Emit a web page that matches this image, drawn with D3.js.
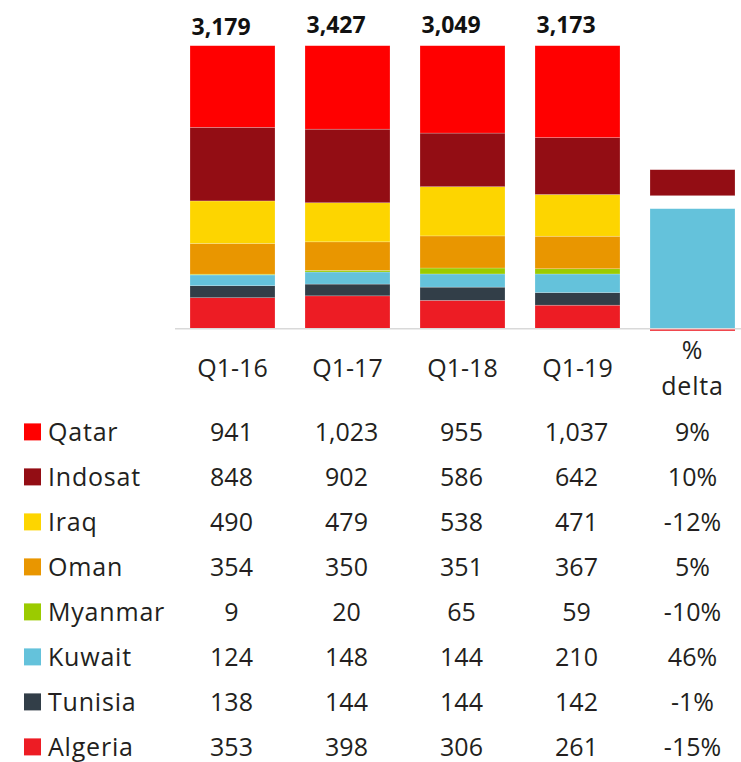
<!DOCTYPE html>
<html>
<head>
<meta charset="utf-8">
<script src="https://cdn.jsdelivr.net/npm/d3@7"></script>
<style>
  html, body { margin: 0; padding: 0; background: #fff; }
  svg { display: block; font-family: "Open Sans", "Noto Sans", sans-serif; }
</style>
</head>
<body>
<svg id="chart" width="741" height="762"></svg>
<script>
// ---------- data ----------
const periods = ["Q1-16", "Q1-17", "Q1-18", "Q1-19"];
const countries = ["Qatar", "Indosat", "Iraq", "Oman", "Myanmar", "Kuwait", "Tunisia", "Algeria"];
const colors = ["#FF0000", "#930D14", "#FDD500", "#E99600", "#9BCB00", "#64C2DB", "#323E48", "#ED1C24"];
const qatar   = [941, 1023, 955, 1037];
const indosat = [848, 902, 586, 642];
const iraq    = [490, 479, 538, 471];
const oman    = [354, 350, 351, 367];
const myanmar = [9, 20, 65, 59];
const kuwait  = [124, 148, 144, 210];
const tunisia = [138, 144, 144, 142];
const algeria = [353, 398, 306, 261];
const totals  = [3179, 3427, 3049, 3173];
const deltaPct = [9, 10, -12, 5, -10, 46, -1, -15];
const deltaColumnLabel = ["%", "delta"];
// segments shown in the "% delta" column, bottom to top
const deltaBarOrder = ["Kuwait", "Oman", "Indosat"];
const deltaHidden = ["Oman"];

const seriesValues = [qatar, indosat, iraq, oman, myanmar, kuwait, tunisia, algeria];

// ---------- layout ----------
const svg = d3.select("#chart");
const textColor = "#231F20";
const baseY = 328.3;
const topY = 45.7;

const columns = [...periods, "delta"];
const x = d3.scaleBand().domain(columns).range([175, 750]).paddingInner(30 / 115).paddingOuter(15 / 115);
const y = d3.scaleLinear().domain([0, 1]).range([baseY, topY]);
const yDelta = d3.scaleLinear().domain([0, 100]).range([baseY, baseY - 260]);
const color = d3.scaleOrdinal().domain(countries).range(colors);

// table rows of records
const rows = periods.map((p, j) => {
  const r = { period: p };
  countries.forEach((c, i) => r[c] = seriesValues[i][j]);
  return r;
});

// stack bottom-to-top: reverse of table order, normalized to 100%
const stackKeys = countries.slice().reverse();
const stack = d3.stack().keys(stackKeys).offset(d3.stackOffsetExpand);
const stacked = stack(rows);

// bars
const g = svg.append("g");
g.selectAll("g.series").data(stacked).join("g")
  .attr("class", "series")
  .attr("fill", d => color(d.key))
  .selectAll("rect").data(d => d).join("rect")
  .attr("x", d => x(d.data.period))
  .attr("width", x.bandwidth())
  .attr("y", d => y(d[1]))
  .attr("height", d => y(d[0]) - y(d[1]))
  .attr("stroke", "rgba(255,255,255,0.35)")
  .attr("stroke-width", 0.6);

// delta column bars
let acc = 0;
const deltaSegs = deltaBarOrder.map(c => {
  const v = deltaPct[countries.indexOf(c)];
  const seg = { key: c, y0: acc, y1: acc + v };
  acc += v;
  return seg;
});
g.selectAll("rect.delta").data(deltaSegs.filter(s => !deltaHidden.includes(s.key))).join("rect")
  .attr("class", "delta")
  .attr("x", x("delta"))
  .attr("width", x.bandwidth())
  .attr("y", d => yDelta(d.y1))
  .attr("height", d => yDelta(d.y0) - yDelta(d.y1))
  .attr("fill", d => color(d.key))
  .attr("stroke", "rgba(255,255,255,0.35)")
  .attr("stroke-width", 0.6);

// axis baseline
svg.append("line")
  .attr("x1", 175).attr("x2", 741)
  .attr("y1", baseY + 0.5).attr("y2", baseY + 0.5)
  .attr("stroke", "#D9D9D9").attr("stroke-width", 1.5);

// thin negative line under delta column (Algeria)
svg.append("rect")
  .attr("x", x("delta"))
  .attr("width", x.bandwidth())
  .attr("y", baseY + 1.2)
  .attr("height", 1.3)
  .attr("fill", color("Algeria"));

// totals above bars
svg.selectAll("text.total").data(periods).join("text")
  .attr("class", "total")
  .attr("x", d => x(d) + 1.5)
  .attr("y", (d, i) => i === 0 ? 35 : 32.5)
  .attr("font-size", 23)
  .attr("font-weight", "bold")
  .attr("fill", "#111")
  .text((d, i) => d3.format(",")(totals[i]));

// category labels
svg.selectAll("text.cat").data(periods).join("text")
  .attr("class", "cat")
  .attr("x", d => x(d) + x.bandwidth() / 2)
  .attr("y", 376.7)
  .attr("text-anchor", "middle")
  .attr("font-size", 25)
  .attr("fill", textColor)
  .text(d => d);

svg.selectAll("text.dlab").data(deltaColumnLabel).join("text")
  .attr("class", "dlab")
  .attr("x", x("delta") + x.bandwidth() / 2)
  .attr("y", (d, i) => i === 0 ? 359.3 : 395)
  .attr("text-anchor", "middle")
  .attr("font-size", 25)
  .attr("letter-spacing", 0.8)
  .attr("fill", textColor)
  .text(d => d);

// table
const rowY = d3.scaleLinear().domain([0, 1]).range([440.7, 485.7]);
const tbl = svg.append("g");
countries.forEach((c, i) => {
  const yy = rowY(i);
  tbl.append("rect")
    .attr("x", 24).attr("y", yy - 17.3)
    .attr("width", 17).attr("height", 17)
    .attr("fill", color(c));
  tbl.append("text")
    .attr("x", 48).attr("y", yy)
    .attr("font-size", 25)
    .attr("letter-spacing", 0.8)
    .attr("fill", textColor)
    .text(c);
  periods.forEach((p, j) => {
    tbl.append("text")
      .attr("x", x(p) + x.bandwidth() / 2 - 1)
      .attr("y", yy)
      .attr("text-anchor", "middle")
      .attr("font-size", 25)
      .attr("fill", textColor)
      .text(d3.format(",")(seriesValues[i][j]));
  });
  tbl.append("text")
    .attr("x", x("delta") + x.bandwidth() / 2)
    .attr("y", yy)
    .attr("text-anchor", "middle")
    .attr("font-size", 25)
    .attr("fill", textColor)
    .text(deltaPct[i] + "%");
});
</script>
</body>
</html>
